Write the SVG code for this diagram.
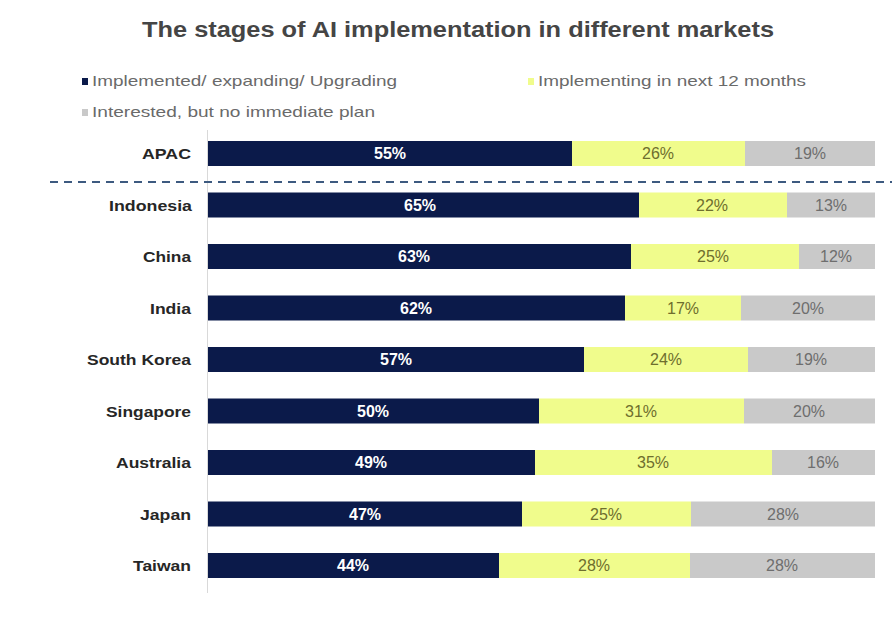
<svg xmlns="http://www.w3.org/2000/svg" width="892" height="617" viewBox="0 0 892 617">
<style>
.title{font-family:"Liberation Sans",Arial,sans-serif;font-weight:bold;font-size:22px;fill:#454545}
.leg{font-family:"Liberation Sans",Arial,sans-serif;font-size:15px;fill:#6a6a6a}
.cat{font-family:"Liberation Sans",Arial,sans-serif;font-weight:bold;font-size:15px;fill:#262626;text-anchor:end}
.v{font-family:"Liberation Sans",Arial,sans-serif;font-size:16px;text-anchor:middle}
.vd{fill:#ffffff;font-weight:bold}
.vy{fill:#6e6e2e}
.vg{fill:#6e6e6e}
.d{fill:#0b1a4a}
.y{fill:#f0fc8c}
.g{fill:#c9c9c9}
</style>
<rect width="892" height="617" fill="#ffffff"/>
<text class="title" x="458" y="37" text-anchor="middle" textLength="632" lengthAdjust="spacingAndGlyphs">The stages of AI implementation in different markets</text>
<g id="legend">
<rect class="d" x="82" y="78" width="6" height="7"/>
<text class="leg" x="92" y="86" textLength="305" lengthAdjust="spacingAndGlyphs">Implemented/ expanding/ Upgrading</text>
<rect class="y" x="528" y="78" width="6" height="7"/>
<text class="leg" x="538" y="86" textLength="268" lengthAdjust="spacingAndGlyphs">Implementing in next 12 months</text>
<rect class="g" x="82" y="109" width="6" height="7"/>
<text class="leg" x="92" y="117" textLength="283" lengthAdjust="spacingAndGlyphs">Interested, but no immediate plan</text>
</g>
<g id="axis">
<line x1="207.5" y1="130" x2="207.5" y2="593" stroke="#d9d9d9" stroke-width="1"/>
<line x1="50" y1="182" x2="892" y2="182" stroke="#3d5a80" stroke-width="2" stroke-dasharray="8,6"/>
</g>
<g id="APAC">
<text class="cat" x="191" y="159" textLength="49" lengthAdjust="spacingAndGlyphs">APAC</text>
<rect class="d" x="208" y="141" width="364" height="25"/>
<rect class="y" x="572" y="141" width="173" height="25"/>
<rect class="g" x="745" y="141" width="130" height="25"/>
<text class="v vd" x="390" y="159">55%</text>
<text class="v vy" x="658" y="159">26%</text>
<text class="v vg" x="810" y="159">19%</text>
</g>
<g id="Indonesia">
<text class="cat" x="192" y="210.5" textLength="83" lengthAdjust="spacingAndGlyphs">Indonesia</text>
<rect class="d" x="208" y="192.5" width="431" height="25"/>
<rect class="y" x="639" y="192.5" width="148" height="25"/>
<rect class="g" x="787" y="192.5" width="88" height="25"/>
<text class="v vd" x="420" y="210.5">65%</text>
<text class="v vy" x="712" y="210.5">22%</text>
<text class="v vg" x="831" y="210.5">13%</text>
</g>
<g id="China">
<text class="cat" x="191" y="262" textLength="48" lengthAdjust="spacingAndGlyphs">China</text>
<rect class="d" x="208" y="244" width="423" height="25"/>
<rect class="y" x="631" y="244" width="168" height="25"/>
<rect class="g" x="799" y="244" width="76" height="25"/>
<text class="v vd" x="414" y="262">63%</text>
<text class="v vy" x="713" y="262">25%</text>
<text class="v vg" x="836" y="262">12%</text>
</g>
<g id="India">
<text class="cat" x="191" y="313.5" textLength="41" lengthAdjust="spacingAndGlyphs">India</text>
<rect class="d" x="208" y="295.5" width="417" height="25"/>
<rect class="y" x="625" y="295.5" width="116" height="25"/>
<rect class="g" x="741" y="295.5" width="134" height="25"/>
<text class="v vd" x="416" y="313.5">62%</text>
<text class="v vy" x="683" y="313.5">17%</text>
<text class="v vg" x="808" y="313.5">20%</text>
</g>
<g id="SouthKorea">
<text class="cat" x="191" y="365" textLength="104" lengthAdjust="spacingAndGlyphs">South Korea</text>
<rect class="d" x="208" y="347" width="376" height="25"/>
<rect class="y" x="584" y="347" width="164" height="25"/>
<rect class="g" x="748" y="347" width="127" height="25"/>
<text class="v vd" x="396" y="365">57%</text>
<text class="v vy" x="666" y="365">24%</text>
<text class="v vg" x="811" y="365">19%</text>
</g>
<g id="Singapore">
<text class="cat" x="191" y="416.5" textLength="85" lengthAdjust="spacingAndGlyphs">Singapore</text>
<rect class="d" x="208" y="398.5" width="331" height="25"/>
<rect class="y" x="539" y="398.5" width="205" height="25"/>
<rect class="g" x="744" y="398.5" width="131" height="25"/>
<text class="v vd" x="373" y="416.5">50%</text>
<text class="v vy" x="641" y="416.5">31%</text>
<text class="v vg" x="809" y="416.5">20%</text>
</g>
<g id="Australia">
<text class="cat" x="191" y="468" textLength="75" lengthAdjust="spacingAndGlyphs">Australia</text>
<rect class="d" x="208" y="450" width="327" height="25"/>
<rect class="y" x="535" y="450" width="237" height="25"/>
<rect class="g" x="772" y="450" width="103" height="25"/>
<text class="v vd" x="371" y="468">49%</text>
<text class="v vy" x="653" y="468">35%</text>
<text class="v vg" x="823" y="468">16%</text>
</g>
<g id="Japan">
<text class="cat" x="191" y="519.5" textLength="51" lengthAdjust="spacingAndGlyphs">Japan</text>
<rect class="d" x="208" y="501.5" width="314" height="25"/>
<rect class="y" x="522" y="501.5" width="169" height="25"/>
<rect class="g" x="691" y="501.5" width="184" height="25"/>
<text class="v vd" x="365" y="519.5">47%</text>
<text class="v vy" x="606" y="519.5">25%</text>
<text class="v vg" x="783" y="519.5">28%</text>
</g>
<g id="Taiwan">
<text class="cat" x="191" y="571" textLength="58" lengthAdjust="spacingAndGlyphs">Taiwan</text>
<rect class="d" x="208" y="553" width="291" height="25"/>
<rect class="y" x="499" y="553" width="191" height="25"/>
<rect class="g" x="690" y="553" width="185" height="25"/>
<text class="v vd" x="353" y="571">44%</text>
<text class="v vy" x="594" y="571">28%</text>
<text class="v vg" x="782" y="571">28%</text>
</g>
</svg>
